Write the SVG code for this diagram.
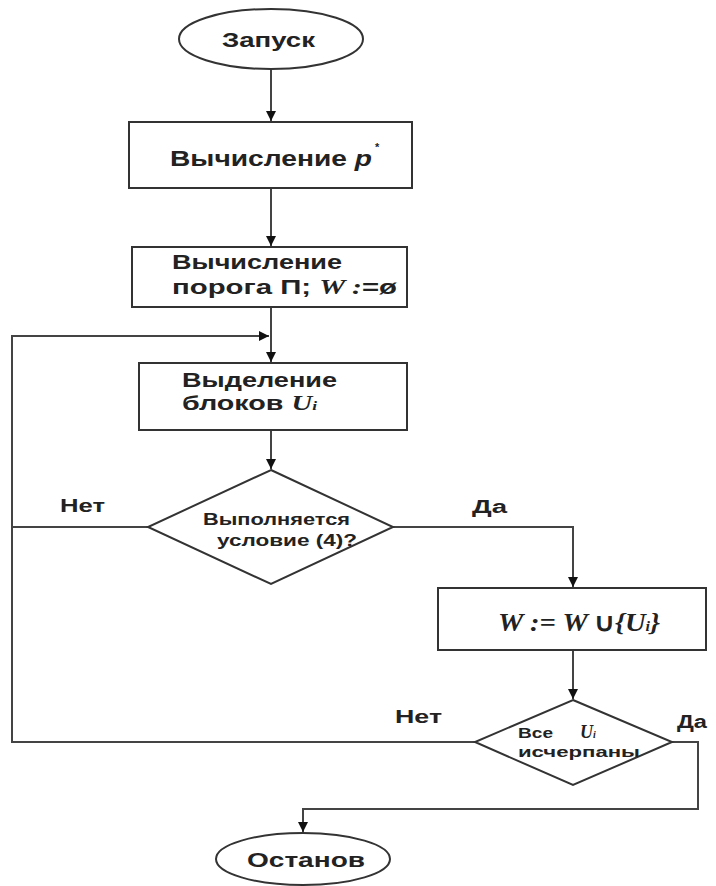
<svg xmlns="http://www.w3.org/2000/svg" width="716" height="886" viewBox="0 0 716 886">
<style>
.s{fill:#fff;stroke:#333;stroke-width:2}
.c{fill:none;stroke:#444;stroke-width:2}
.t{font-family:"Liberation Sans",Arial,sans-serif;font-weight:bold;fill:#222}
.m{font-family:"Liberation Serif","Times New Roman",serif;font-style:italic;font-weight:bold;fill:#222}
</style>
<defs>
<marker id="a" viewBox="0 0 10 10" refX="10" refY="5" markerWidth="12" markerHeight="10" orient="auto" markerUnits="userSpaceOnUse">
<path d="M0,0 L10,5 L0,10 z" fill="#111"/>
</marker>
</defs>
<rect width="716" height="886" fill="#fff"/>
<g id="connectors">
<path class="c" d="M271,69 V121" marker-end="url(#a)"/>
<path class="c" d="M271,188 V246" marker-end="url(#a)"/>
<path class="c" d="M271,307 V362" marker-end="url(#a)"/>
<path class="c" d="M12,527 V336 H269" marker-end="url(#a)"/>
<path class="c" d="M271,430 V469" marker-end="url(#a)"/>
<path class="c" d="M148,527 H12"/>
<path class="c" d="M393,527 H573 V587" marker-end="url(#a)"/>
<path class="c" d="M573,650 V699" marker-end="url(#a)"/>
<path class="c" d="M475,742 H12 V527"/>
<path class="c" d="M672,742 H698 V809 H303 V832" marker-end="url(#a)"/>
</g>
<g id="start">
<ellipse class="s" cx="271" cy="39" rx="92" ry="30"/>
<text class="t" x="222" y="47" font-size="21" textLength="93" lengthAdjust="spacingAndGlyphs">Запуск</text>
</g>
<g id="calc-p">
<rect class="s" x="129" y="122" width="283" height="66"/>
<text class="t" x="170" y="166" font-size="22" textLength="202" lengthAdjust="spacingAndGlyphs">Вычисление <tspan font-style="italic">p</tspan></text>
<text class="t" x="375" y="151" font-size="11">*</text>
</g>
<g id="calc-threshold">
<rect class="s" x="132" y="247" width="275" height="60"/>
<text class="t" x="172" y="269" font-size="20" textLength="170" lengthAdjust="spacingAndGlyphs">Вычисление</text>
<text class="t" x="172" y="294" font-size="20" textLength="225" lengthAdjust="spacingAndGlyphs">порога П; <tspan class="m" font-weight="normal">W</tspan><tspan class="m" font-weight="normal"> :</tspan>=ø</text>
</g>
<g id="select-blocks">
<rect class="s" x="139" y="363" width="268" height="67"/>
<text class="t" x="182" y="387" font-size="20" textLength="155" lengthAdjust="spacingAndGlyphs">Выделение</text>
<text class="t" x="182" y="410" font-size="20" textLength="135" lengthAdjust="spacingAndGlyphs">блоков <tspan class="m" font-weight="normal">U</tspan><tspan class="m" font-weight="normal" font-size="12">i</tspan></text>
</g>
<g id="cond4">
<polygon class="s" points="271,470 393,527 271,584 148,527"/>
<text class="t" x="203" y="525" font-size="16" textLength="147" lengthAdjust="spacingAndGlyphs">Выполняется</text>
<text class="t" x="217" y="546" font-size="16" textLength="140" lengthAdjust="spacingAndGlyphs">условие (4)?</text>
</g>
<g id="union">
<rect class="s" x="438" y="588" width="268" height="62"/>
<text class="m" x="498" y="631" font-size="25" textLength="162" lengthAdjust="spacingAndGlyphs">W := W <tspan font-family="Liberation Sans,Arial,sans-serif" font-style="normal">∪</tspan>{U<tspan font-size="14">i</tspan>}</text>
</g>
<g id="all-used">
<polygon class="s" points="573,700 672,742 573,785 475,742"/>
<text class="t" x="518" y="738" font-size="15" textLength="35" lengthAdjust="spacingAndGlyphs">Все</text>
<text class="m" x="580" y="738" font-size="18" font-weight="normal">U<tspan font-size="10">i</tspan></text>
<text class="t" x="518" y="757" font-size="15" textLength="122" lengthAdjust="spacingAndGlyphs">исчерпаны</text>
</g>
<g id="stop">
<ellipse class="s" cx="303" cy="859" rx="87" ry="26"/>
<text class="t" x="247" y="867" font-size="21" textLength="118" lengthAdjust="spacingAndGlyphs">Останов</text>
</g>
<g id="labels">
<text class="t" x="60" y="512" font-size="18" textLength="45" lengthAdjust="spacingAndGlyphs">Нет</text>
<text class="t" x="472" y="513" font-size="18" textLength="35" lengthAdjust="spacingAndGlyphs">Да</text>
<text class="t" x="395" y="723" font-size="18" textLength="47" lengthAdjust="spacingAndGlyphs">Нет</text>
<text class="t" x="677" y="728" font-size="18" textLength="30" lengthAdjust="spacingAndGlyphs">Да</text>
</g>
</svg>
